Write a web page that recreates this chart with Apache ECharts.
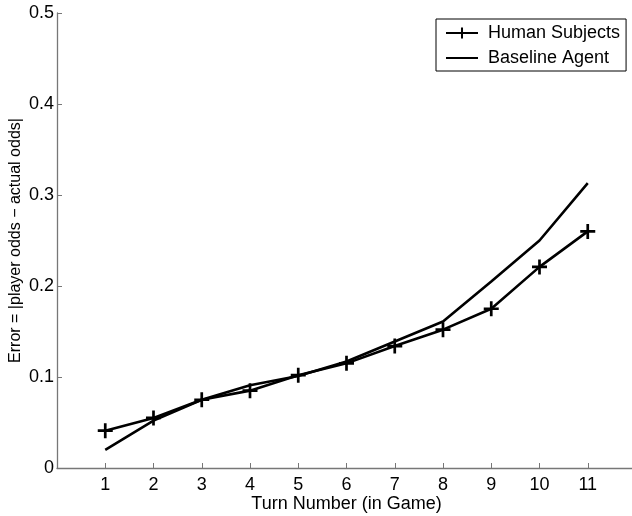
<!DOCTYPE html>
<html>
<head>
<meta charset="utf-8">
<script src="https://cdn.jsdelivr.net/npm/echarts@6/dist/echarts.min.js"></script>
<style>html,body{margin:0;padding:0;background:#fff}#c{width:632px;height:516px}</style>
</head>
<body>
<div id="c"></div>
<script>
var turns = [1,2,3,4,5,6,7,8,9,10,11];
var humanSubjects = [0.041,0.055,0.075,0.085,0.102,0.115,0.134,0.152,0.175,0.221,0.260];
var baselineAgent = [0.020,0.052,0.075,0.091,0.101,0.117,0.139,0.161,0.205,0.250,0.313];
var yTicks = [0,0.1,0.2,0.3,0.4,0.5];
var seriesNames = ['Human Subjects','Baseline Agent'];
var xTitle = 'Turn Number (in Game)';
var yTitle = 'Error = |player odds \u2212 actual odds|';

var plusPath = 'path://M0,4.1 H10 V5.9 H0 Z M4.1,0 H5.9 V10 H4.1 Z';
var font = 'Liberation Sans, Arial, Helvetica, sans-serif';
var chart = echarts.init(document.getElementById('c'));
chart.setOption({
  animation:false,
  backgroundColor:'#fff',
  grid:{left:57,top:13,width:579,height:455,containLabel:false,outerBoundsMode:'none'},
  legend:{
    left:436, top:19, orient:'vertical',
    data:[{name:seriesNames[0]},
          {name:seriesNames[1], itemStyle:{color:'rgba(0,0,0,0)',borderWidth:0,opacity:0}}],
    backgroundColor:'#fff', borderColor:'#000', borderWidth:1,
    padding:[5,6,4,9], itemGap:7, itemWidth:32, itemHeight:14,
    textStyle:{fontFamily:font,fontSize:18,color:'#000',lineHeight:14,padding:[0,0,0,5]}
  },
  xAxis:{
    type:'value', min:0, max:12, interval:1,
    name:xTitle, nameLocation:'middle', nameGap:27, nameMoveOverlap:false,
    nameTextStyle:{fontFamily:font,fontSize:18,color:'#000'},
    axisLine:{lineStyle:{color:'#777',width:1.3}},
    axisTick:{inside:true,length:5,lineStyle:{color:'#777'}},
    axisLabel:{fontFamily:font,fontSize:18,color:'#000',margin:8,
      formatter:function(v){return (v>=1&&v<=11)?String(v):'';}},
    splitLine:{show:false}
  },
  yAxis:{
    type:'value', min:0, max:0.5, interval:0.1,
    name:yTitle, nameLocation:'middle', nameGap:33, nameMoveOverlap:false,
    nameTextStyle:{fontFamily:font,fontSize:16,color:'#000'},
    axisLine:{show:true,lineStyle:{color:'#777',width:1.3}},
    axisTick:{show:true,inside:true,length:5,lineStyle:{color:'#777'}},
    axisLabel:{fontFamily:font,fontSize:18,color:'#000',margin:3,
      formatter:function(v){var i=yTicks.indexOf(Math.round(v*10)/10);return i===0?'0':String(yTicks[i]);}},
    splitLine:{show:false}
  },
  series:[
    {name:seriesNames[0],type:'line',data:turns.map(function(t,i){return [t,humanSubjects[i]];}),
     symbol:plusPath,symbolSize:15,showSymbol:true,
     lineStyle:{color:'#000',width:2.6},itemStyle:{color:'#000'},z:3},
    {name:seriesNames[1],type:'line',data:turns.map(function(t,i){return [t,baselineAgent[i]];}),
     symbol:'none',
     lineStyle:{color:'#000',width:2.6},itemStyle:{color:'#000'},z:2}
  ]
});
</script>
</body>
</html>
